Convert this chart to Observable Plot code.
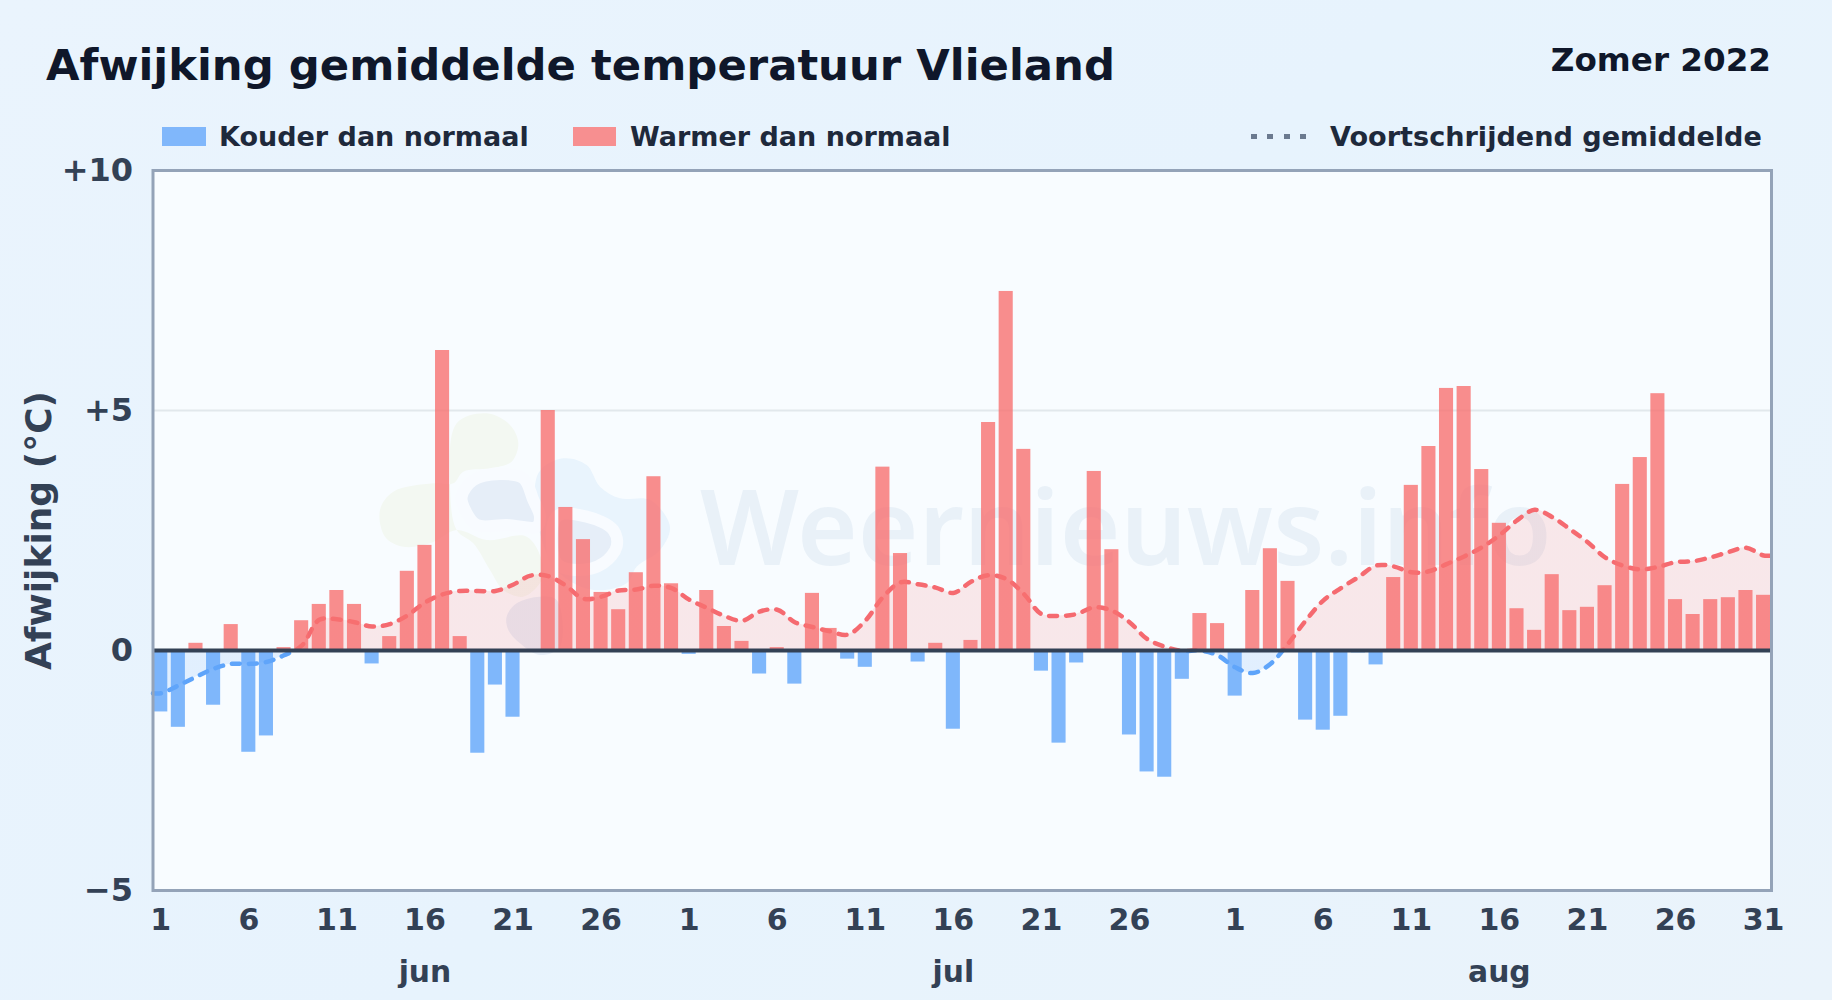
<!DOCTYPE html>
<html lang="nl">
<head>
<meta charset="utf-8">
<script src="https://cdn.jsdelivr.net/npm/d3@7"></script>
<script src="https://cdn.jsdelivr.net/npm/@observablehq/plot@0.6"></script>
<style>
html,body{margin:0;padding:0}
body{width:1832px;height:1000px;overflow:hidden;position:relative;font-family:"DejaVu Sans",sans-serif;font-weight:bold;
background:linear-gradient(135deg,#eaf4fd 0%,#e7f3fd 50%,#eaf3fb 100%)}
#header{position:absolute;left:0;top:0;width:1832px;height:140px}
#title{position:absolute;left:46px;top:37px;font-size:43.35px;color:#0f172a;white-space:nowrap;line-height:56px}
#period{position:absolute;right:61px;top:37px;font-size:32.6px;color:#0f172a;white-space:nowrap;line-height:46px}
.lg{position:absolute;top:121px;font-size:27px;line-height:32px;color:#1e293b;white-space:nowrap}
.sw{position:absolute;top:127px;height:19px}
#dots{position:absolute;left:1251px;top:134px;width:56px;height:5px;
background:repeating-linear-gradient(90deg,#6b7a8f 0 6px,transparent 6px 16.3px)}
#chart{position:absolute;left:0;top:140px}
</style>
</head>
<body>
<div id="header">
  <div id="title">Afwijking gemiddelde temperatuur Vlieland</div>
  <div id="period">Zomer 2022</div>
  <div class="sw" style="left:162px;width:44px;background:#80b7fb"></div>
  <div class="lg" style="left:219px">Kouder dan normaal</div>
  <div class="sw" style="left:573px;width:43px;background:#f78f90"></div>
  <div class="lg" style="left:630px">Warmer dan normaal</div>
  <div id="dots"></div>
  <div class="lg" style="left:1330px;font-size:27.1px">Voortschrijdend gemiddelde</div>
</div>
<div id="chart"></div>
<script>
const months = ["jun", "jul", "aug"];
const juni = [-1.28,-1.6,0.15,-1.14,0.54,-2.12,-1.78,0.06,0.62,0.96,1.25,0.96,-0.28,0.29,1.65,2.19,6.25,0.29,-2.14,-0.72,-1.39,0,5.0,2.98,2.31,1.21,0.85,1.62,3.62,1.39];
const juli = [-0.08,1.25,0.5,0.19,-0.49,0.06,-0.7,1.19,0.46,-0.18,-0.35,3.82,2.02,-0.24,0.15,-1.64,0.21,4.75,7.48,4.19,-0.43,-1.93,-0.26,3.73,2.1,-1.76,-2.53,-2.64,-0.6,0.77,0.56];
const augustus = [-0.95,1.25,2.12,1.44,-1.45,-1.66,-1.37,-0.05,-0.3,1.52,3.44,4.25,5.46,5.5,3.77,2.65,0.87,0.42,1.58,0.83,0.9,1.35,3.46,4.02,5.35,1.06,0.75,1.06,1.1,1.25,1.15];
const gemJuni = [-0.89,-0.73,-0.55,-0.38,-0.28,-0.28,-0.24,-0.1,0.1,0.64,0.65,0.59,0.5,0.55,0.73,1.0,1.17,1.24,1.24,1.24,1.37,1.56,1.55,1.35,1.08,1.12,1.25,1.27,1.35,1.3];
const gemJuli = [1.06,0.89,0.72,0.62,0.81,0.85,0.59,0.49,0.4,0.33,0.62,1.11,1.42,1.38,1.31,1.2,1.43,1.57,1.49,1.18,0.76,0.72,0.76,0.9,0.83,0.59,0.24,0.08,-0.01,0,-0.1];
const gemAugustus = [-0.35,-0.47,-0.28,0.14,0.62,1.04,1.3,1.53,1.77,1.75,1.63,1.65,1.8,1.96,2.15,2.4,2.71,2.93,2.78,2.53,2.26,1.94,1.77,1.69,1.74,1.84,1.86,1.94,2.05,2.14,1.98];
const yTicks = [-5, 0, 5, 10];
const dayLabels = [1,6,11,16,21,26];
const monthLengths = [30, 31, 31];

const values = [...juni, ...juli, ...augustus];
const gem = [...gemJuni, ...gemJuli, ...gemAugustus];
const bars = values.map((v, i) => ({i, v}));
const xMin = -0.44, xMax = 91.45;
const linePts = [{i: xMin, v: gem[0]}, ...gem.map((v, i) => ({i, v})), {i: xMax, v: gem[gem.length - 1]}];

const tickMap = new Map();
let off = 0;
monthLengths.forEach((n, m) => {
  const days = m === 2 ? [...dayLabels, 31] : dayLabels;
  days.forEach(d => tickMap.set(off + d - 1, String(d)));
  off += n;
});
const monthMarks = months.map((m, k) => ({m, i: monthLengths.slice(0, k).reduce((a, b) => a + b, 0) + 15}));
const fmtY = d => d > 0 ? "+" + d : d < 0 ? "\u2212" + Math.abs(d) : "0";

const gradients = (index, {y}) => {
  const defs = d3.create("svg:defs");
  const add = (id, up, down, op) => {
    const g = defs.append("linearGradient").attr("id", id).attr("gradientUnits", "userSpaceOnUse")
      .attr("x1", 0).attr("x2", 0).attr("y1", y(10)).attr("y2", y(-5));
    const t = (y(0) - y(10)) / (y(-5) - y(10));
    [[0, up], [t, up], [t, down], [1, down]].forEach(([o, c]) =>
      g.append("stop").attr("offset", o).attr("stop-color", c).attr("stop-opacity", op));
  };
  add("lineSplit", "#f56a70", "#5ea4fa", 1);
  add("areaSplit", "#f87171", "#60a5fa", 0.15);
  return defs.node();
};

const watermark = () => {
  const g = d3.create("svg:g").attr("transform", "translate(360,260) scale(0.3333)");
  const blob = d3.line().curve(d3.curveCatmullRomClosed);
  const add = (pts, fill, stroke) => g.append("path").attr("d", blob(pts)).attr("fill", fill)
    .attr("stroke", stroke || "none").attr("stroke-width", stroke ? 36 : 0);
  add([[290,70],[380,40],[450,75],[475,130],[455,185],[390,205],[310,215],[280,250],[220,250],[100,275],[60,330],[75,410],[130,440],[210,430],[290,390],[380,420],[500,410],[545,480],[545,540],[490,590],[430,570],[390,510],[340,430],[290,390],[270,250]], "#f3f8f2");
  add([[535,220],[610,175],[680,195],[720,260],[780,295],[870,300],[930,380],[900,450],[830,500],[800,550],[700,570],[600,520],[540,400]], "#e9f4fd");
  add([[305,290],[340,240],[420,222],[490,235],[520,300],[540,350],[530,380],[440,375],[350,375],[315,330]], "#e6eef8", "#f8fbff");
  add([[590,350],[680,350],[760,390],[770,440],[730,490],[660,510],[590,490]], "#e6eef8", "#f8fbff");
  add([[440,650],[470,610],[540,590],[590,600],[600,740],[540,765],[480,730],[445,690]], "#e6eef8");
  return g.node();
};
const siteName = () => {
  const t = d3.create("svg:text").attr("x", 700).attr("y", 425).attr("text-anchor", "start")
    .attr("font-family", "'Noto Sans',sans-serif")
    .attr("font-size", 104).attr("font-weight", 600).attr("fill", "#3b6ea0").attr("fill-opacity", 0.08)
    .text("Weernieuws.info");
  return t.node();
};

const chart = Plot.plot({
  width: 1832, height: 860,
  marginLeft: 152.5, marginRight: 61, marginTop: 30, marginBottom: 110,
  style: {background: "transparent", fontFamily: "'DejaVu Sans',sans-serif", overflow: "visible"},
  x: {type: "linear", domain: [xMin, xMax]},
  y: {domain: [-5, 10]},
  marks: [
    gradients,
    Plot.frame({fill: "#f8fcff", stroke: "none"}),
    watermark,
    siteName,
    Plot.ruleY([5], {stroke: "#e2e8ec", strokeWidth: 2}),
    Plot.areaY(linePts, {x: "i", y1: () => 0, y2: "v", curve: "catmull-rom", fill: "url(#areaSplit)"}),
    Plot.line(linePts, {x: "i", y: "v", curve: "catmull-rom", stroke: "url(#lineSplit)", strokeWidth: 4.5, strokeDasharray: "8 9", strokeLinecap: "round"}),
    Plot.rectY(bars, {x1: d => d.i - 0.4, x2: d => d.i + 0.4, y1: () => 0, y2: "v", fill: d => d.v < 0 ? "#60a5fa" : "#f87171", fillOpacity: 0.8}),
    Plot.ruleY([0], {stroke: "#334155", strokeWidth: 4}),
    Plot.frame({stroke: "#94a3b8", strokeWidth: 3, fill: "none"}),
    Plot.axisY({ticks: yTicks, tickFormat: fmtY, tickSize: 0, tickPadding: 20, label: null, fontSize: 32, fontWeight: "bold", color: "#334155"}),
    Plot.axisX({ticks: [...tickMap.keys()], tickFormat: d => tickMap.get(d), tickSize: 0, tickPadding: 18, label: null, fontSize: 30, fontWeight: "bold", color: "#334155"}),
    Plot.text(monthMarks, {x: "i", text: "m", frameAnchor: "bottom", dy: 91, fontSize: 29.8, fontWeight: "bold", fill: "#334155"}),
    Plot.text(["Afwijking (\u00b0C)"], {frameAnchor: "left", textAnchor: "middle", rotate: -90, dx: -114, fontSize: 36, fontWeight: "bold", fill: "#334155"})
  ]
});
document.getElementById("chart").appendChild(chart);
</script>
</body>
</html>
